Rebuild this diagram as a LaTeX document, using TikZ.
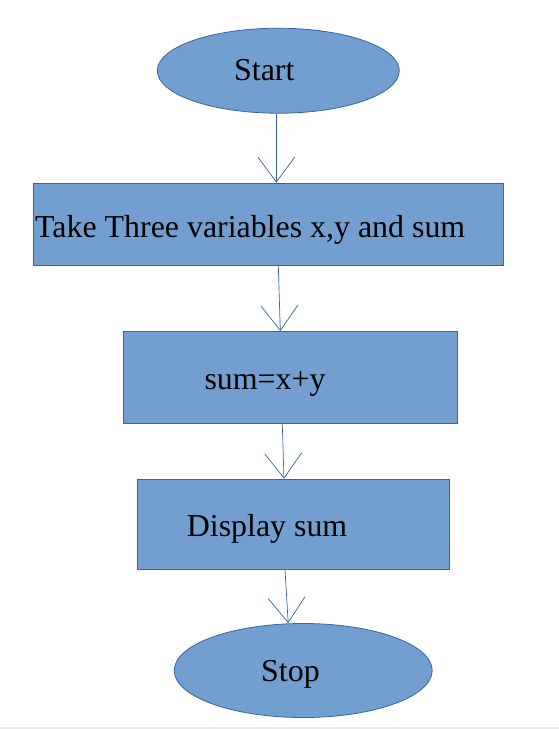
\documentclass[tikz,border=0pt]{standalone}
\usepackage{fontspec}
\setmainfont{Liberation Serif}
\usepackage{tikz}
\usetikzlibrary{shapes.geometric,arrows.meta}

\definecolor{boxfill}{HTML}{729FCF}
\definecolor{boxline}{HTML}{3465A4}

\tikzset{
  term/.style={ellipse, draw=boxline, fill=boxfill, line width=0.8pt, inner sep=0pt},
  proc/.style={rectangle, draw=boxline, fill=boxfill, line width=0.8pt, inner sep=0pt},
  txt/.style={anchor=base west, inner sep=0pt, font=\fontsize{31.9}{38}\selectfont},
  flow/.style={draw=boxline, line width=0.7pt,
    -{Straight Barb[length=25pt,width=37pt,line width=0.7pt]}}
}

\begin{document}
\begin{tikzpicture}[x=1pt, y=-1pt]
  \useasboundingbox (0, 0) rectangle (559, 729);
  \fill[black!8] (0, 727) rectangle (559, 729);

  \node [term, minimum width=242pt, minimum height=85pt] (start) at (278.3, 70.7) {};
  \node [proc, minimum width=470pt, minimum height=82pt] (take) at (268, 224) {};
  \node [proc, minimum width=334pt, minimum height=92pt] (sum) at (290.5, 377.5) {};
  \node [proc, minimum width=312pt, minimum height=90pt] (disp) at (293.3, 524.2) {};
  \node [term, minimum width=258pt, minimum height=94pt] (stop) at (303.2, 670.5) {};

  \node [txt] (start-t) at (234, 80) {Start};
  \node [txt] (take-t) at (35, 237) {Take Three variables x,y and sum};
  \node [txt] (sum-t) at (204.3, 389.3) {sum=x+y};
  \node [txt] (disp-t) at (186.7, 536.7) {Display sum};
  \node [txt] (stop-t) at (261, 681.7) {Stop};

  \draw [flow] ([xshift=-2pt]start.south) -- ([xshift=8.3pt]take.north);
  \draw [flow] ([xshift=10.3pt]take.south) -- ([xshift=-10.2pt]sum.north);
  \draw [flow] ([xshift=-8.2pt]sum.south) -- ([xshift=-9.3pt]disp.north);
  \draw [flow] ([xshift=-8.3pt]disp.south) -- ([xshift=-15pt]stop.north);
\end{tikzpicture}
\end{document}
